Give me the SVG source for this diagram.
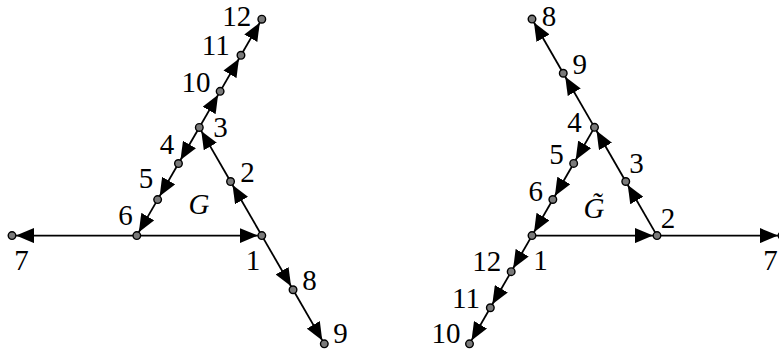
<svg xmlns="http://www.w3.org/2000/svg" width="779" height="355" viewBox="0 0 779 355">
<style>
.e{stroke:#000;stroke-width:1.8;fill:none;marker-end:url(#a)}
.n{fill:#7a7a7a;stroke:#000;stroke-width:1.4}
.t{font-family:"Liberation Serif","DejaVu Serif",serif;font-size:29px;fill:#000;text-anchor:middle}
.i{font-style:italic}
</style>
<defs>
<marker id="a" viewBox="0 0 18 15" refX="18" refY="7.5" markerWidth="18" markerHeight="15" markerUnits="userSpaceOnUse" orient="auto">
<path d="M0,0 L18,7.5 L0,15 z" fill="#000"/>
</marker>
</defs>
<g id="connectors">
<!-- left graph G -->
<line class="e" x1="136.8" y1="235.6" x2="257.8" y2="235.6"/>
<line class="e" x1="136.8" y1="235.6" x2="16" y2="235.6"/>
<line class="e" x1="261.8" y1="235.6" x2="232.55" y2="185.0"/>
<line class="e" x1="230.55" y1="181.53" x2="201.3" y2="130.91"/>
<line class="e" x1="199.3" y1="127.45" x2="180.47" y2="160.07"/>
<line class="e" x1="178.47" y1="163.53" x2="159.63" y2="196.16"/>
<line class="e" x1="157.63" y1="199.62" x2="138.8" y2="232.14"/>
<line class="e" x1="199.3" y1="127.45" x2="218.13" y2="94.83"/>
<line class="e" x1="220.13" y1="91.37" x2="238.97" y2="58.74"/>
<line class="e" x1="240.97" y1="55.28" x2="259.8" y2="22.66"/>
<line class="e" x1="261.8" y1="235.6" x2="291.05" y2="286.27"/>
<line class="e" x1="293.05" y1="289.73" x2="322.3" y2="340.39"/>
<!-- right graph G tilde -->
<line class="e" x1="532" y1="235.6" x2="653" y2="235.6"/>
<line class="e" x1="657" y1="235.6" x2="778" y2="235.6"/>
<line class="e" x1="657" y1="235.6" x2="627.75" y2="184.94"/>
<line class="e" x1="625.75" y1="181.48" x2="596.5" y2="130.81"/>
<line class="e" x1="594.5" y1="127.35" x2="575.67" y2="159.97"/>
<line class="e" x1="573.67" y1="163.43" x2="554.83" y2="196.06"/>
<line class="e" x1="552.83" y1="199.52" x2="534" y2="232.14"/>
<line class="e" x1="594.5" y1="127.35" x2="565.25" y2="76.69"/>
<line class="e" x1="563.25" y1="73.23" x2="534" y2="22.56"/>
<line class="e" x1="532" y1="235.6" x2="513.17" y2="268.22"/>
<line class="e" x1="511.17" y1="271.68" x2="492.33" y2="304.31"/>
<line class="e" x1="490.33" y1="307.77" x2="471.5" y2="340.39"/>
</g>
<g id="G">
<g id="L1"><circle class="n" cx="261.8" cy="235.6" r="3.8"/><text class="t" x="253" y="270">1</text></g>
<g id="L2"><circle class="n" cx="230.55" cy="181.53" r="3.8"/><text class="t" x="247.5" y="182">2</text></g>
<g id="L3"><circle class="n" cx="199.3" cy="127.45" r="3.8"/><text class="t" x="220.5" y="137">3</text></g>
<g id="L4"><circle class="n" cx="178.47" cy="163.53" r="3.8"/><text class="t" x="167" y="154">4</text></g>
<g id="L5"><circle class="n" cx="157.63" cy="199.62" r="3.8"/><text class="t" x="146" y="188">5</text></g>
<g id="L6"><circle class="n" cx="136.8" cy="235.6" r="3.8"/><text class="t" x="125.5" y="225">6</text></g>
<g id="L7"><circle class="n" cx="12" cy="235.6" r="3.8"/><text class="t" x="21.5" y="270">7</text></g>
<g id="L8"><circle class="n" cx="293.05" cy="289.73" r="3.8"/><text class="t" x="309.5" y="290">8</text></g>
<g id="L9"><circle class="n" cx="324.3" cy="343.85" r="3.8"/><text class="t" x="340.5" y="343">9</text></g>
<g id="L10"><circle class="n" cx="220.13" cy="91.37" r="3.8"/><text class="t" x="196" y="92">10</text></g>
<g id="L11"><circle class="n" cx="240.97" cy="55.28" r="3.8"/><text class="t" x="215.8" y="55">11</text></g>
<g id="L12"><circle class="n" cx="261.8" cy="19.2" r="3.8"/><text class="t" x="236.7" y="26">12</text></g>
<text class="t i" x="199" y="214">G</text>
</g>
<g id="Gtilde">
<g id="R1"><circle class="n" cx="532" cy="235.6" r="3.8"/><text class="t" x="540.5" y="270">1</text></g>
<g id="R2"><circle class="n" cx="657" cy="235.6" r="3.8"/><text class="t" x="668" y="228">2</text></g>
<g id="R3"><circle class="n" cx="625.75" cy="181.48" r="3.8"/><text class="t" x="636.5" y="173">3</text></g>
<g id="R4"><circle class="n" cx="594.5" cy="127.35" r="3.8"/><text class="t" x="574.5" y="132">4</text></g>
<g id="R5"><circle class="n" cx="573.67" cy="163.43" r="3.8"/><text class="t" x="556.5" y="164">5</text></g>
<g id="R6"><circle class="n" cx="552.83" cy="199.52" r="3.8"/><text class="t" x="535.7" y="201">6</text></g>
<g id="R7"><circle class="n" cx="782" cy="235.6" r="3.8"/><text class="t" x="770.5" y="270">7</text></g>
<g id="R8"><circle class="n" cx="532" cy="19.1" r="3.8"/><text class="t" x="549" y="26">8</text></g>
<g id="R9"><circle class="n" cx="563.25" cy="73.23" r="3.8"/><text class="t" x="579.7" y="74">9</text></g>
<g id="R10"><circle class="n" cx="469.5" cy="343.85" r="3.8"/><text class="t" x="446" y="343">10</text></g>
<g id="R11"><circle class="n" cx="490.33" cy="307.77" r="3.8"/><text class="t" x="466" y="308">11</text></g>
<g id="R12"><circle class="n" cx="511.17" cy="271.68" r="3.8"/><text class="t" x="486.7" y="271">12</text></g>
<text class="t i" x="594" y="218">G̃</text>
</g>
</svg>
